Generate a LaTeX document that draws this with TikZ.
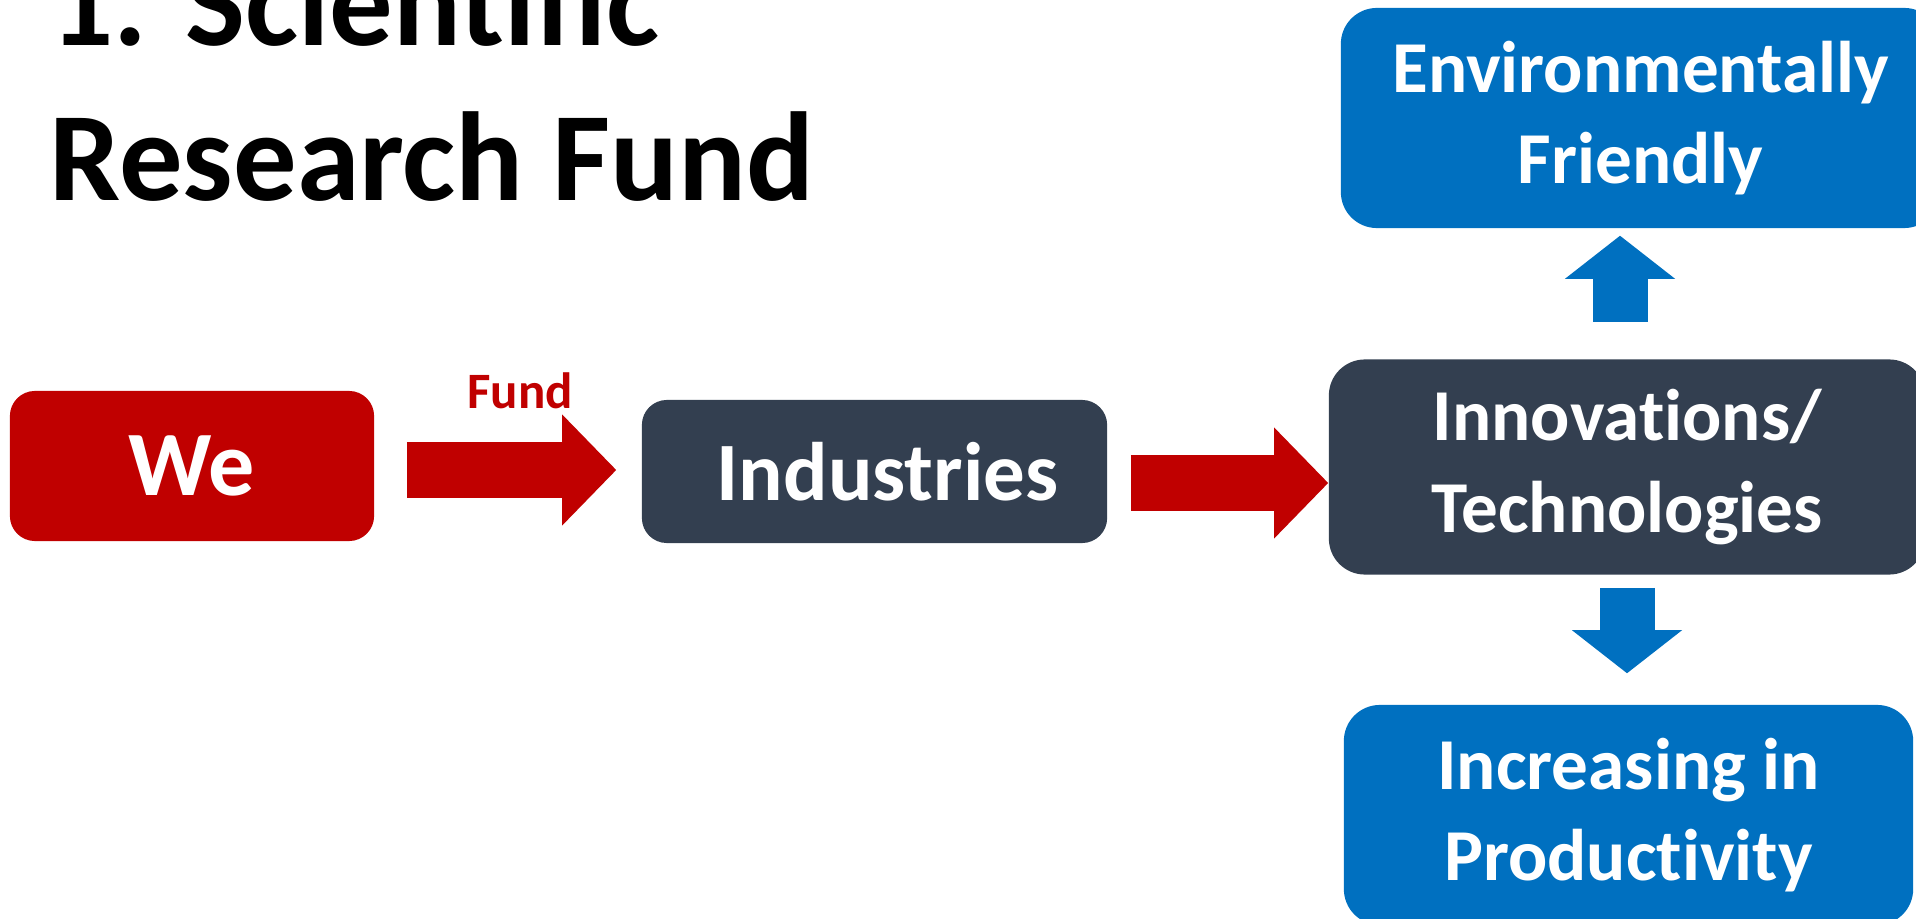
\documentclass[tikz,border=0pt]{standalone}
\usepackage{fontspec}
\setmainfont{Carlito}[Ligatures=CommonOff]
\usetikzlibrary{arrows.meta,calc}
\definecolor{fundred}{HTML}{C00000}
\definecolor{slate}{HTML}{333F50}
\definecolor{ppblue}{HTML}{0070C0}

\begin{document}
\begin{tikzpicture}[x=0.01cm, y=-0.01cm,
        >={Triangle[length=5.4mm,width=11.1mm,line width=0pt]},
        box/.style={rounded corners=3.6mm, text=white, align=center, inner sep=0pt},
        redarrow/.style={->, draw=fundred, line width=5.5mm},
        bluearrow/.style={-{Triangle[length=4.3mm,width=11mm,line width=0pt]}, draw=ppblue, line width=5.5mm}]
        % 画布大小
        \useasboundingbox (0,0) rectangle (1916,919);
        \node[anchor=base west, inner sep=0pt, font=\bfseries\fontsize{36}{44}\selectfont] (title1) at (49,46) {1. Scientific};
        \node[anchor=base west, inner sep=0pt, font=\bfseries\fontsize{36}{44}\selectfont] (title2) at (49,201) {Research Fund};
        \node[box, rounded corners=2.5mm, fill=fundred, minimum width=3.64cm, minimum height=1.5cm, font=\bfseries\fontsize{26.2}{31}\selectfont] (we) at (192,466) {We};
        \node[box, rounded corners=2.5mm, fill=slate, minimum width=4.65cm, minimum height=1.43cm, font=\bfseries\fontsize{23.6}{28}\selectfont] (ind) at (874.5,471.5) {\hspace*{2.6mm}Industries};
        \node[box, fill=slate, minimum width=5.96cm, minimum height=2.15cm, font=\bfseries\fontsize{20.8}{26}\selectfont] (inno) at (1627,467) {Innovations/\\Technologies};
        \node[box, fill=ppblue, minimum width=5.99cm, minimum height=2.2cm, font=\bfseries\fontsize{20.8}{26}\selectfont] (env) at (1640.5,118) {Environmentally\\Friendly};
        \node[box, fill=ppblue, minimum width=5.69cm, minimum height=2.2cm, font=\bfseries\fontsize{20.8}{26}\selectfont] (inc) at (1628.5,815) {Increasing in\\Productivity};
        \node[anchor=base, inner sep=0pt, text=fundred, font=\bfseries\fontsize{14.5}{17}\selectfont] (fund) at (520,409) {Fund};
        % 箭头
        \draw[redarrow] ($(we.east)+(32,4)$) -- ($(ind.west)+(-25,-1.5)$);
        \draw[redarrow] ($(ind.east)+(23,11.5)$) -- ($(inno.west)+(0,16)$);
        \draw[bluearrow] ($(inno.north)+(-7,-37)$) -- ($(env.south)+(-20.5,7)$);
        \draw[bluearrow] ($(inno.south)+(0,12.5)$) -- ($(inc.north)+(-1.5,-31)$);
    \end{tikzpicture}
\end{document}
